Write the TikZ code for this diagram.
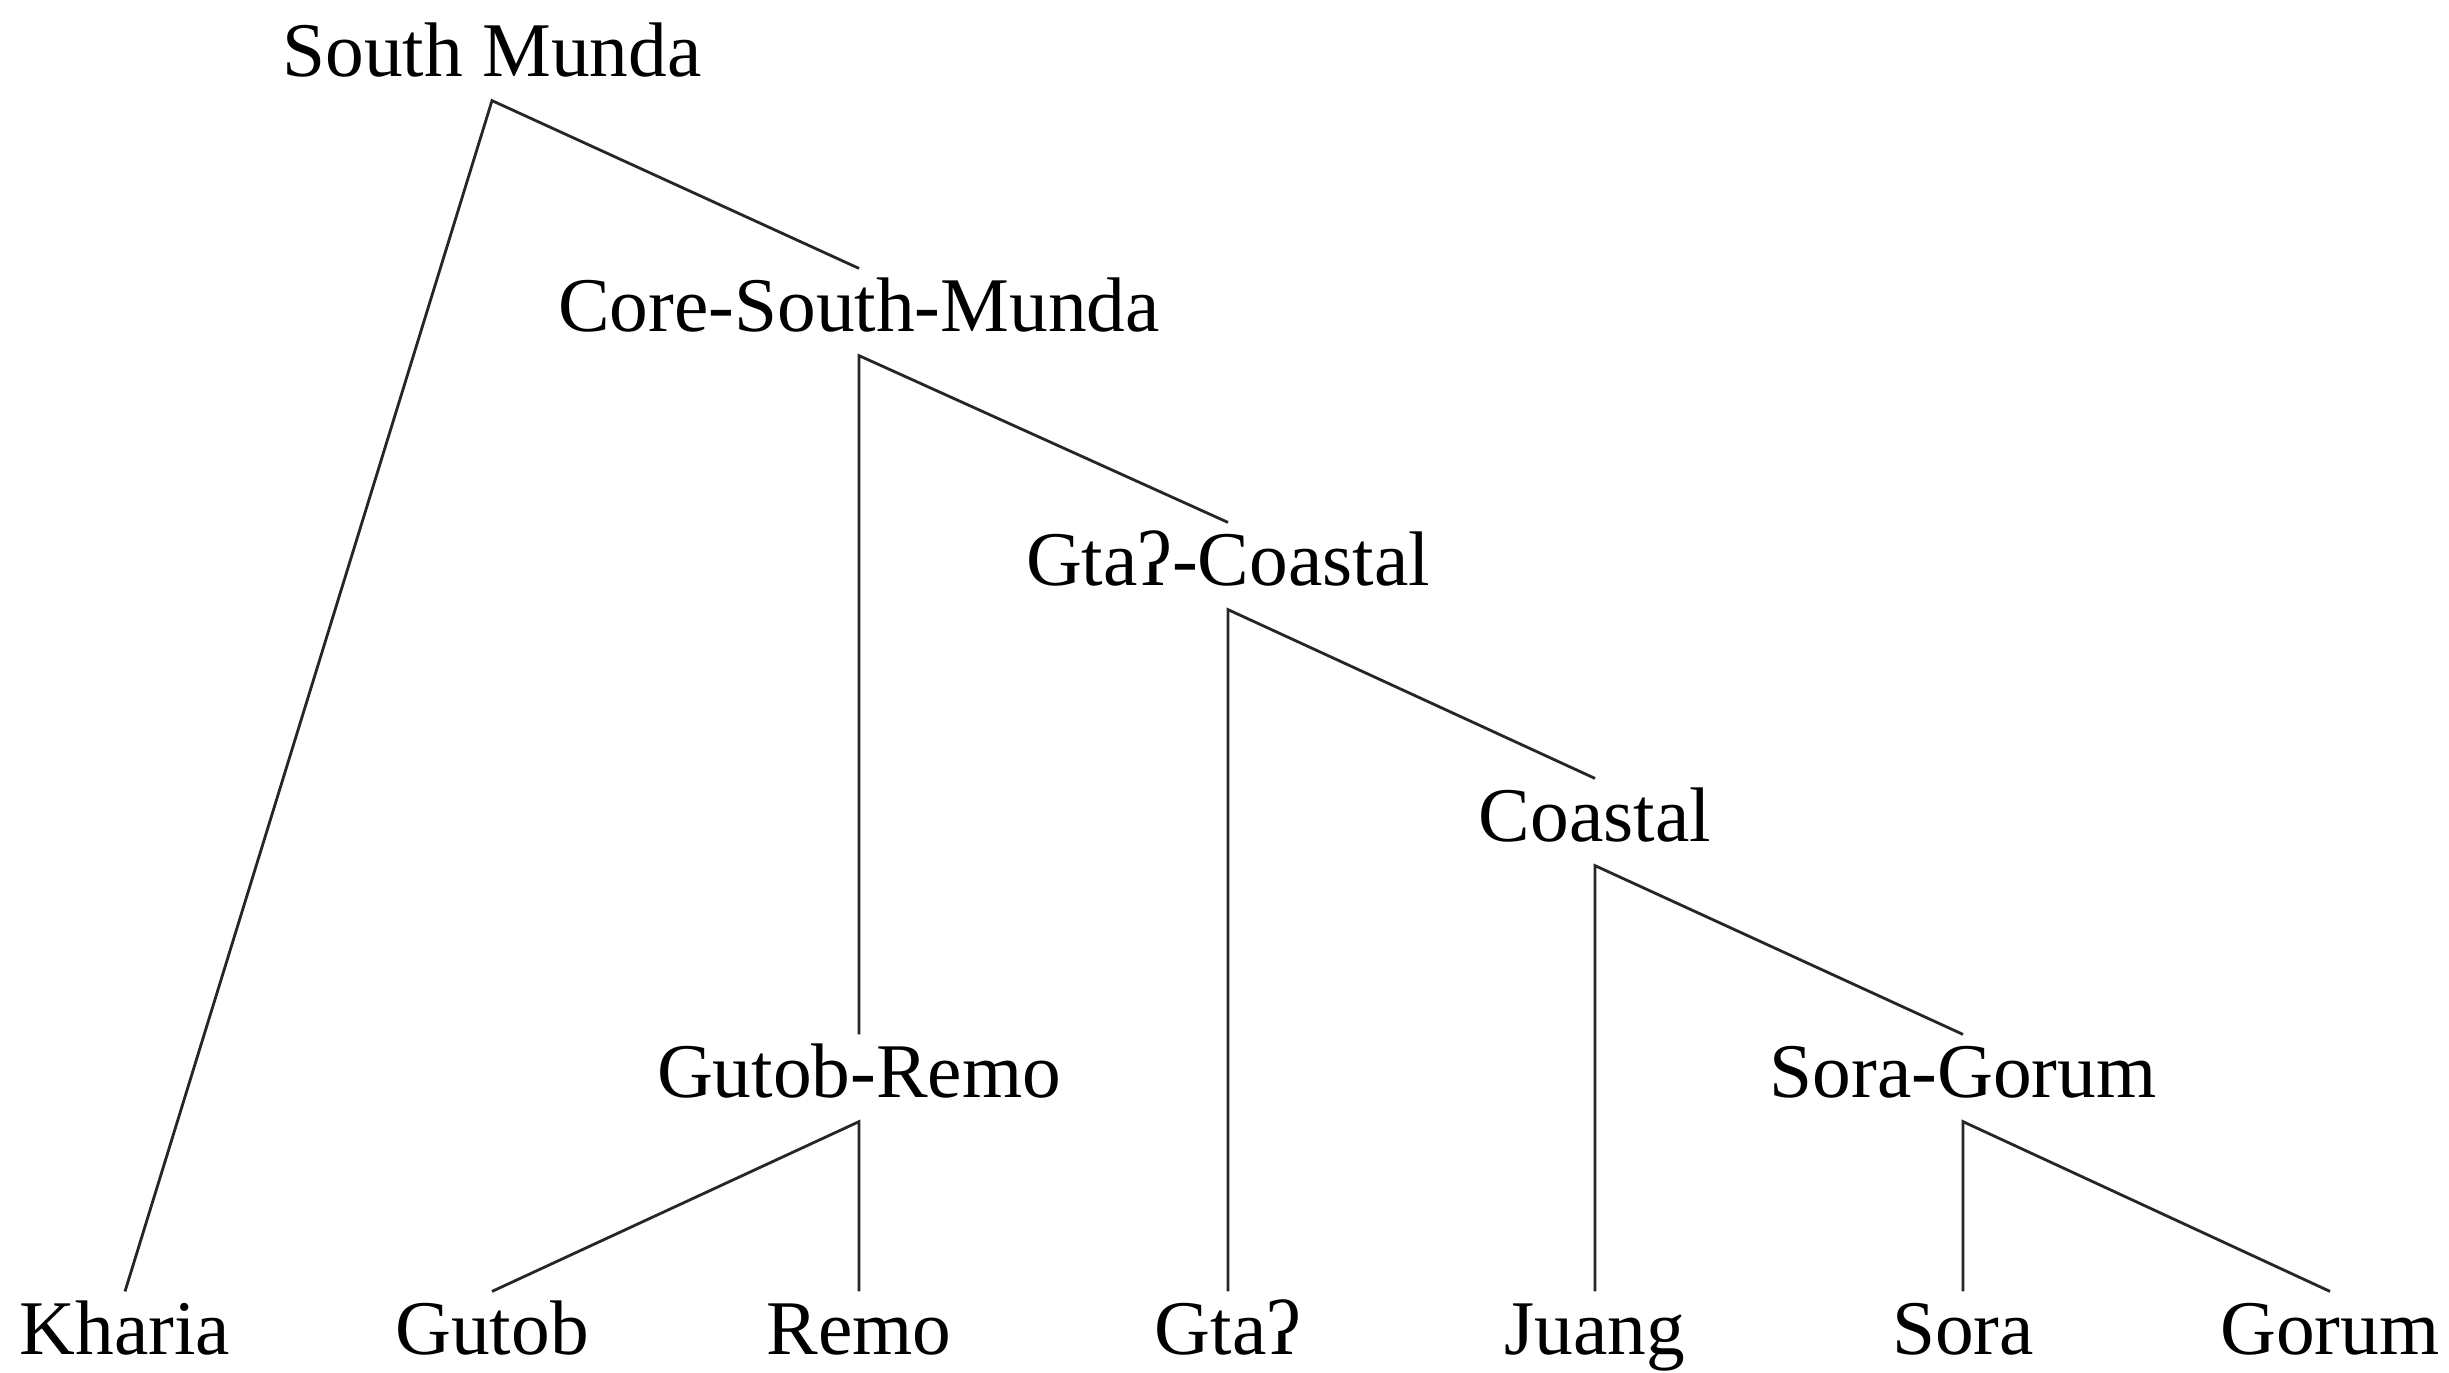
\documentclass[tikz,border=0pt]{standalone}
\usepackage{fontspec}
\setmainfont{Liberation Serif}
\begin{document}
\begin{tikzpicture}[x=0.01cm,y=-0.01cm,
  lbl/.style={anchor=base, font=\fontsize{22}{26}\selectfont, inner xsep=0pt, inner ysep=3pt,
              text height=14.6pt, text depth=3.8pt},
  branch/.style={line width=0.8pt, draw=black!85}]
\useasboundingbox (0,0) rectangle (2449,1372);
% internal nodes
\node[lbl] (sm)  at (492,76)   {South Munda};
\node[lbl] (csm) at (859,331)  {Core-South-Munda};
\node[lbl] (gc)  at (1228,585) {Gtaʔ-Coastal};
\node[lbl] (co)  at (1595,841) {Coastal};
\node[lbl] (gr)  at (859,1097) {Gutob-Remo};
\node[lbl] (sg)  at (1963,1097){Sora-Gorum};
% leaves
\node[lbl] (kh)  at (125,1354)  {Kharia};
\node[lbl] (gu)  at (492,1354)  {Gutob};
\node[lbl] (re)  at (859,1354)  {Remo};
\node[lbl] (gt)  at (1228,1354) {Gtaʔ};
\node[lbl] (ju)  at (1595,1354) {Juang};
\node[lbl] (so)  at (1963,1354) {Sora};
\node[lbl] (go)  at (2330,1354) {Gorum};
% branches
\draw[branch] (kh.north) -- (sm.south) -- (csm.north);
\draw[branch] (gr.north) -- (csm.south) -- (gc.north);
\draw[branch] (gt.north) -- (gc.south) -- (co.north);
\draw[branch] (ju.north) -- (co.south) -- (sg.north);
\draw[branch] (gu.north) -- (gr.south) -- (re.north);
\draw[branch] (so.north) -- (sg.south) -- (go.north);
\end{tikzpicture}
\end{document}
